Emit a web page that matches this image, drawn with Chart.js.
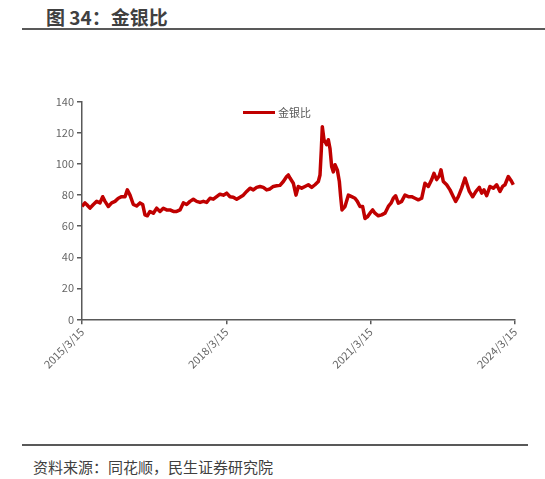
<!DOCTYPE html>
<html>
<head>
<meta charset="utf-8">
<script src="https://cdn.jsdelivr.net/npm/chart.js@4/dist/chart.umd.min.js"></script>
<style>
  body { margin: 0; width: 545px; height: 479px; background: #fff; position: relative; overflow: hidden;
         font-family: "Noto Sans CJK SC", "Noto Sans", sans-serif; }
  #title { position: absolute; left: 46px; top: 3px; font-size: 19px; font-weight: bold; color: #404040; }
  #titleLine { position: absolute; left: 22px; top: 28px; width: 523px; height: 2px; background: #595959; }
  #legend { position: absolute; left: 243px; top: 104px; font-size: 11px; color: #595959; display: flex; align-items: center; }
  #legend span.mark { display: inline-block; width: 32px; height: 3px; background: #c00000; margin-right: 3px; }
  #wrap { position: absolute; left: 0; top: 90px; width: 545px; height: 282px; }
  #footLine { position: absolute; left: 22px; top: 444px; width: 506px; height: 2px; background: #595959; }
  #source { position: absolute; left: 33px; top: 456px; font-size: 15px; color: #404040; }
</style>
</head>
<body>
<div id="title">图 34：金银比</div>
<div id="titleLine"></div>
<div id="wrap"><canvas id="myChart"></canvas></div>
<div id="legend"><span class="mark"></span>金银比</div>
<div id="footLine"></div>
<div id="source">资料来源：同花顺，民生证券研究院</div>
<script>
// 年份偏移（自 2015/3/15 起，单位：年）
const years = [
  0.000, 0.062, 0.097, 0.166, 0.236, 0.305, 0.374, 0.430, 0.478, 0.547,
  0.617, 0.686, 0.755, 0.824, 0.894, 0.942, 0.998, 1.067, 1.136, 1.205,
  1.261, 1.309, 1.358, 1.413, 1.483, 1.552, 1.621, 1.690, 1.760, 1.829,
  1.898, 1.968, 2.037, 2.106, 2.175, 2.245, 2.314, 2.383, 2.453, 2.522,
  2.591, 2.661, 2.730, 2.799, 2.868, 2.938, 3.007, 3.076, 3.145, 3.215,
  3.284, 3.353, 3.423, 3.492, 3.561, 3.630, 3.700, 3.769, 3.838, 3.907,
  3.977, 4.046, 4.115, 4.185, 4.254, 4.289, 4.323, 4.392, 4.448, 4.496,
  4.566, 4.635, 4.704, 4.774, 4.843, 4.912, 4.947, 4.974, 4.995, 5.030,
  5.085, 5.120, 5.155, 5.189, 5.224, 5.259, 5.307, 5.349, 5.376, 5.404,
  5.466, 5.536, 5.605, 5.674, 5.723, 5.778, 5.833, 5.882, 5.931, 5.986,
  6.042, 6.090, 6.159, 6.229, 6.298, 6.367, 6.423, 6.471, 6.519, 6.575,
  6.644, 6.713, 6.783, 6.852, 6.921, 6.990, 7.060, 7.129, 7.198, 7.268,
  7.316, 7.372, 7.427, 7.462, 7.510, 7.580, 7.649, 7.718, 7.767, 7.822,
  7.892, 7.961, 7.996, 8.051, 8.120, 8.189, 8.259, 8.307, 8.356, 8.411,
  8.480, 8.550, 8.619, 8.688, 8.743, 8.792, 8.861, 8.917, 8.965
];

// 金银比
const ratio = [
  72.7, 75.0, 74.0, 71.6, 74.0, 76.0, 75.0, 79.0, 76.0, 72.7,
  75.0, 76.0, 78.0, 79.0, 79.0, 83.4, 80.0, 74.0, 73.0, 75.0,
  74.0, 67.3, 66.7, 69.5, 68.4, 71.6, 69.5, 71.6, 70.5, 70.5,
  69.5, 69.5, 70.5, 75.0, 74.0, 76.0, 77.4, 76.0, 75.3, 76.0,
  75.3, 78.0, 77.4, 79.0, 80.6, 80.0, 81.3, 79.0, 78.7, 77.4,
  78.7, 80.0, 82.4, 84.5, 83.4, 85.0, 85.6, 85.0, 83.4, 84.0,
  85.6, 86.0, 86.3, 88.8, 92.0, 93.0, 91.0, 87.7, 80.0, 85.6,
  84.5, 85.6, 86.7, 85.0, 86.7, 88.8, 93.0, 109.0, 124.0, 115.7,
  112.5, 115.7, 110.0, 98.5, 95.0, 99.6, 96.3, 88.8, 79.0, 70.5,
  72.7, 80.0, 79.0, 78.0, 76.0, 72.7, 72.7, 65.0, 66.0, 68.4,
  70.5, 68.4, 66.7, 67.3, 68.4, 72.7, 74.8, 78.0, 79.6, 74.8,
  76.0, 80.0, 79.0, 79.0, 78.0, 77.0, 78.0, 87.7, 85.6, 90.0,
  94.0, 90.0, 92.5, 96.3, 88.8, 86.7, 83.4, 79.0, 76.0, 79.0,
  84.5, 91.0, 87.7, 82.4, 79.0, 82.4, 85.0, 81.3, 83.4, 79.6,
  85.6, 84.5, 86.7, 82.4, 85.6, 86.7, 92.0, 89.5, 86.7
];

const tickLabels = ['2015/3/15', '2018/3/15', '2021/3/15', '2024/3/15'];

const points = years.map((t, i) => ({ x: t, y: ratio[i] }));

const axisColor = '#595959';
const tickFont = { family: '"Noto Sans CJK SC", "Noto Sans", sans-serif', size: 11 };

const ctx = document.getElementById('myChart').getContext('2d');
new Chart(ctx, {
  type: 'line',
  data: {
    datasets: [{
      label: '金银比',
      data: points,
      borderColor: '#c00000',
      backgroundColor: '#c00000',
      borderWidth: 3.5,
      pointRadius: 0,
      tension: 0,
      borderJoinStyle: 'round'
    }]
  },
  options: {
    responsive: true,
    maintainAspectRatio: false,
    animation: false,
    layout: { padding: { top: 12, right: 30, left: 0, bottom: 0 } },
    plugins: {
      legend: { display: false },
      tooltip: { enabled: false }
    },
    scales: {
      x: {
        type: 'linear',
        min: 0,
        max: 9,
        border: { display: true, color: axisColor, width: 1.5 },
        grid: { display: true, drawOnChartArea: false, drawTicks: true, tickLength: 5, color: axisColor, lineWidth: 1.5 },
        ticks: {
          stepSize: 3,
          autoSkip: false,
          maxRotation: 45,
          minRotation: 45,
          color: '#666',
          font: tickFont,
          padding: 1,
          callback: v => tickLabels[Math.round(v / 3)]
        }
      },
      y: {
        min: 0,
        max: 140,
        afterFit: s => { s.width = 82; },
        border: { display: true, color: axisColor, width: 1.5 },
        grid: { display: true, drawOnChartArea: false, drawTicks: true, tickLength: 5, color: axisColor, lineWidth: 1.5 },
        ticks: {
          stepSize: 20,
          color: '#666',
          font: tickFont,
          padding: 3
        }
      }
    }
  }
});
</script>
</body>
</html>
